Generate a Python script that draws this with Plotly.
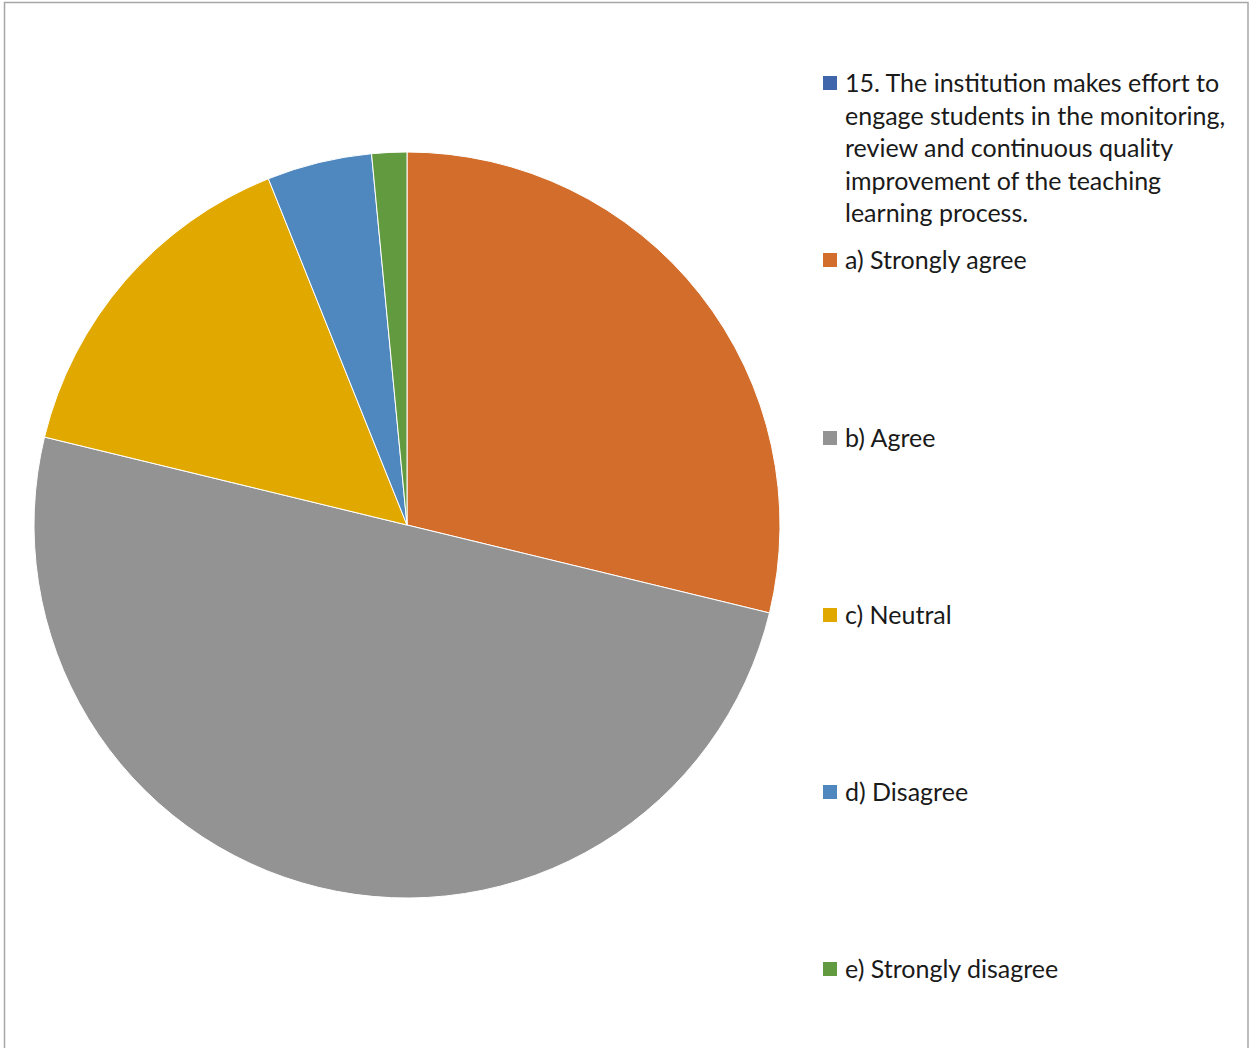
import plotly.graph_objects as go

# Survey responses for item 15
categories = [
    "15. The institution makes effort to<br>engage students in the monitoring,<br>review and continuous quality<br>improvement of the teaching<br>learning process.",
    "a) Strongly agree",
    "b) Agree",
    "c) Neutral",
    "d) Disagree",
    "e) Strongly disagree",
]
responses = [0, 19, 33, 10, 3, 1]
colors = ["#3F65AB", "#D36D2B", "#939393", "#E1A900", "#4F88BF", "#629A3F"]

W, H = 1250, 1048

# pie geometry (pixels)
cx, cy, r = 407, 525, 373

pie_labels = [c for c, v in zip(categories, responses) if v > 0]
pie_values = [v for v in responses if v > 0]
pie_colors = [col for col, v in zip(colors, responses) if v > 0]

fig = go.Figure(
    go.Pie(
        labels=pie_labels,
        values=pie_values,
        marker=dict(colors=pie_colors, line=dict(color="#FFFFFF", width=1)),
        sort=False,
        direction="clockwise",
        rotation=0,
        textinfo="none",
        hoverinfo="label+value+percent",
        showlegend=False,
        domain=dict(
            x=[(cx - r) / W, (cx + r) / W],
            y=[(H - cy - r) / H, (H - cy + r) / H],
        ),
    )
)

# hand-built legend on the right
font = dict(family="Lato, Noto Sans, sans-serif", size=25, color="#1A1A1A")
item_y = [82, 259, 437, 614, 791, 968]
line_pitch = 32.5
annotations = []
shapes = []
for label, col, y0 in zip(categories, colors, item_y):
    shapes.append(dict(
        type="rect", xref="paper", yref="paper",
        x0=823 / W, x1=837 / W,
        y0=1 - (y0 + 8) / H, y1=1 - (y0 - 6) / H,
        fillcolor=col, line=dict(width=0),
    ))
    for i, line in enumerate(label.split("<br>")):
        annotations.append(dict(
            text=line, xref="paper", yref="paper",
            x=843 / W, y=1 - (y0 + i * line_pitch) / H,
            xanchor="left", yanchor="middle", showarrow=False, font=font,
        ))

# chart area border
shapes.append(dict(
    type="rect", xref="paper", yref="paper",
    x0=4.5 / W, x1=1248 / W, y0=-0.05, y1=1 - 2.5 / H,
    line=dict(color="#A6A6A6", width=1.5), fillcolor="rgba(0,0,0,0)",
))

fig.update_layout(
    width=W, height=H,
    margin=dict(l=0, r=0, t=0, b=0),
    paper_bgcolor="#FFFFFF",
    plot_bgcolor="#FFFFFF",
    annotations=annotations,
    shapes=shapes,
)

fig.write_html("out.html")
